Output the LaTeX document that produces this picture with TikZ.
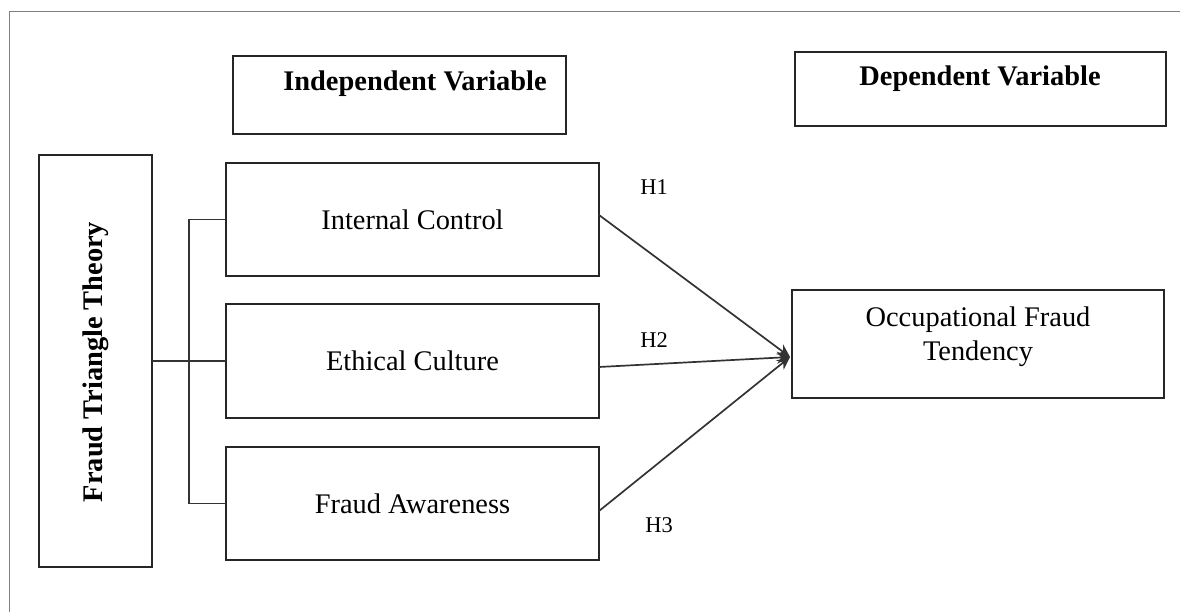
\documentclass[tikz,border=0pt]{standalone}
\usepackage{fontspec}
\setmainfont{Liberation Serif}
\usetikzlibrary{arrows.meta}
\begin{document}
\begin{tikzpicture}[x=1pt,y=-1pt,
  box/.style={draw=black!85,line width=2pt,minimum width=#1,inner sep=0pt,outer sep=0pt,rectangle},
  txt/.style={font=\fontsize{28.4}{34}\selectfont,align=center,inner sep=0pt},
  btxt/.style={font=\fontsize{28.4}{34}\selectfont\bfseries,align=center,inner sep=0pt},
  hlab/.style={font=\fontsize{22.5}{27}\selectfont,inner sep=0pt},
  conn/.style={draw=black!80,line width=1.7pt},
  arr/.style={conn,-{Stealth[length=13pt,width=12pt]}},
  frame/.style={draw=black!50,line width=1.5pt}]
\useasboundingbox (0,0) rectangle (1180,612);
\fill[white] (0,0) rectangle (1180,612);
\draw[frame] (9.5,612) -- (9.5,11.5) -- (1180,11.5);
% header boxes
\node[box=333pt,minimum height=78pt] (iv) at (399.5,95) {};
\node[btxt] (ivt) at (415,84) {Independent Variable};
\node[box=371pt,minimum height=74pt] (dv) at (980.5,89) {};
\node[btxt] (dvt) at (980,79) {Dependent Variable};
% theory box
\node[box=113pt,minimum height=412pt] (ftt) at (95,361) {};
\node[btxt,rotate=90] (fttt) at (96,362) {Fraud Triangle Theory};
% independent variables
\node[box=373pt,minimum height=113pt,txt] (ic) at (412.5,219.5) {Internal Control};
\node[box=373pt,minimum height=114pt,txt] (ec) at (412.5,361) {Ethical Culture};
\node[box=373pt,minimum height=113pt,txt] (fa) at (412.5,503.5) {Fraud Awareness};
% dependent variable
\node[box=372pt,minimum height=108pt] (ofb) at (978,344) {};
\node[txt] (oft) at (978,337) {Occupational Fraud\\Tendency};
% bracket connectors
\coordinate (bx) at (189,361);
\draw[conn] (ftt.east) -- (ec.west);
\draw[conn] (ic.west) -| (bx) |- (fa.west);
% arrows
\coordinate (tip) at ([xshift=-2pt,yshift=-13pt]ofb.west);
\draw[arr] ([yshift=4.5pt]ic.east) -- (tip);
\draw[arr] ([yshift=-6pt]ec.east) -- (tip);
\draw[arr] ([yshift=-7.5pt]fa.east) -- (tip);
% hypothesis labels
\node[hlab] (h1) at (654,187) {H1};
\node[hlab] (h2) at (654,340) {H2};
\node[hlab] (h3) at (659,525) {H3};
\end{tikzpicture}
\end{document}
